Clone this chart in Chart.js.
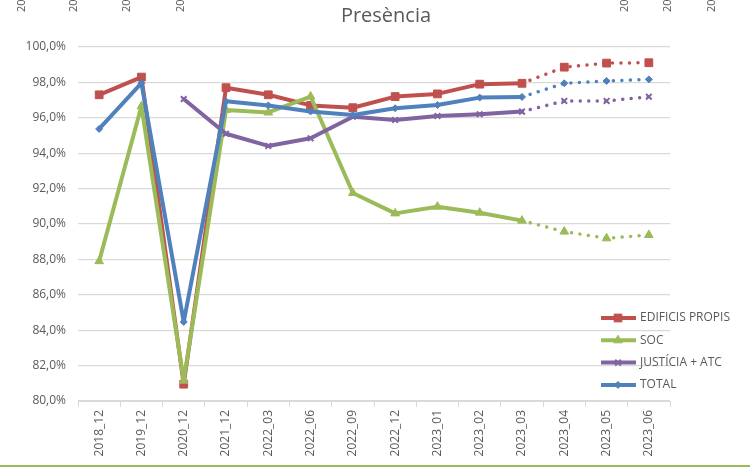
<!DOCTYPE html>
<html>
<head>
<meta charset="utf-8">
<script src="https://cdn.jsdelivr.net/npm/chart.js@4/dist/chart.umd.min.js"></script>
<style>
  body { margin: 0; background: #fff; }
  #wrap { width: 750px; height: 471px; position: relative; }
</style>
</head>
<body>
<div id="wrap"><canvas id="line-chart"></canvas></div>
<script>
// data
var categories = ['2018_12', '2019_12', '2020_12', '2021_12', '2022_03', '2022_06', '2022_09', '2022_12', '2023_01', '2023_02', '2023_03', '2023_04', '2023_05', '2023_06'];
var edificis = [97.3, 98.3, 80.95, 97.7, 97.3, 96.7, 96.57, 97.2, 97.35, 97.9, 97.95, 98.86, 99.09, 99.11];
var soc = [87.9, 96.65, 81.15, 96.44, 96.3, 97.2, 91.75, 90.6, 90.98, 90.64, 90.19, 89.57, 89.19, 89.38];
var justicia = [null, null, 97.06, 95.1, 94.41, 94.84, 96.06, 95.88, 96.1, 96.2, 96.35, 96.95, 96.95, 97.19];
var total = [95.37, 97.96, 84.47, 96.93, 96.7, 96.36, 96.16, 96.54, 96.72, 97.14, 97.18, 97.95, 98.08, 98.17];
var seriesNames = ['EDIFICIS PROPIS', 'SOC', 'JUSTÍCIA + ATC', 'TOTAL'];
var chartTitle = 'Presència';
var topStubs = ['20', '20', '20', '20', '20', '20', '20'];
var yMin = 80, yMax = 100, yStep = 2;
var firstForecast = 10; // from 2023_03 onward the line is dotted

var textColor = '#595959';
var fontFamily = "'Open Sans', 'Noto Sans', sans-serif";

function makeSet(label, data, color, style, radius, order) {
    return {
        label: label,
        data: data,
        borderColor: color,
        backgroundColor: color,
        borderWidth: 4,
        pointStyle: style,
        pointRadius: radius,
        pointBorderWidth: style === 'crossRot' ? 2 : 1,
        pointBorderColor: color,
        pointBackgroundColor: color,
        borderCapStyle: 'round',
        borderJoinStyle: 'round',
        order: order,
        segment: {
            borderDash: function (ctx) { return ctx.p0DataIndex >= firstForecast ? [0.01, 8.5] : undefined; },
            borderWidth: function (ctx) { return ctx.p0DataIndex >= firstForecast ? 3.5 : undefined; }
        }
    };
}

// title, legend, stray labels and bottom rule drawn by hand
var decorations = {
    id: 'decorations',
    afterDraw: function (chart) {
        var c = chart.ctx;
        c.save();
        c.fillStyle = textColor;
        c.font = '20px ' + fontFamily;
        c.textAlign = 'center';
        c.textBaseline = 'middle';
        c.fillText(chartTitle, 386, 16);

        // clipped labels peeking in at the top
        var xs = [22, 74, 127, 181, 625, 668, 712];
        c.font = '11px ' + fontFamily;
        c.textAlign = 'left';
        xs.forEach(function (x, i) {
            c.save();
            c.translate(x, 12);
            c.rotate(-Math.PI / 2);
            c.fillText(topStubs[i], 0, 0);
            c.restore();
        });

        // legend
        var ly = 318;
        chart.data.datasets.forEach(function (ds) {
            c.strokeStyle = ds.borderColor;
            c.lineWidth = 4;
            c.beginPath();
            c.moveTo(601, ly);
            c.lineTo(636, ly);
            c.stroke();
            c.fillStyle = ds.borderColor;
            c.strokeStyle = ds.borderColor;
            c.lineWidth = ds.pointBorderWidth;
            Chart.helpers.drawPoint(c, { pointStyle: ds.pointStyle, radius: ds.pointRadius, borderWidth: ds.pointBorderWidth, rotation: 0 }, 618, ly);
            c.fillStyle = textColor;
            c.font = '12px ' + fontFamily;
            c.textAlign = 'left';
            c.textBaseline = 'middle';
            c.fillText(ds.label, 640, ly);
            ly += 22.3;
        });

        // green rule at the bottom
        c.strokeStyle = '#9bbb59';
        c.lineWidth = 2;
        c.beginPath();
        c.moveTo(0, 466);
        c.lineTo(750, 466);
        c.stroke();
        c.restore();
    }
};

var ctx1 = document.getElementById('line-chart').getContext('2d');
var lineChart = new Chart(ctx1, {
    type: 'line',
    data: {
        labels: categories,
        datasets: [
            makeSet(seriesNames[0], edificis, '#c0504d', 'rect', 5.5, 3),
            makeSet(seriesNames[1], soc, '#9bbb59', 'triangle', 5, 2),
            makeSet(seriesNames[2], justicia, '#8064a2', 'crossRot', 4, 1),
            makeSet(seriesNames[3], total, '#4f81bd', 'rectRot', 3.5, 0)
        ]
    },
    options: {
        responsive: true,
        maintainAspectRatio: false,
        animation: false,
        layout: { padding: { top: 47, right: 80, bottom: 0, left: 0 } },
        plugins: {
            legend: { display: false },
            title: { display: false },
            tooltip: { enabled: false }
        },
        scales: {
            x: {
                offset: true,
                grid: { drawOnChartArea: false, drawTicks: true, tickLength: 6, offset: true, color: '#d9d9d9' },
                border: { display: true, color: '#d9d9d9' },
                ticks: {
                    color: textColor,
                    font: { family: fontFamily, size: 12 },
                    minRotation: 90,
                    maxRotation: 90,
                    padding: 3,
                    autoSkip: false
                },
                afterFit: function (scale) { scale.height = 70; }
            },
            y: {
                min: yMin,
                max: yMax,
                grid: { color: '#d9d9d9', drawTicks: false, lineWidth: 1.3 },
                border: { display: false },
                ticks: {
                    stepSize: yStep,
                    padding: 12,
                    color: textColor,
                    font: { family: fontFamily, size: 12 },
                    callback: function (v) { return v.toFixed(1).replace('.', ',') + '%'; }
                },
                afterFit: function (scale) { scale.width = 78; }
            }
        }
    },
    plugins: [decorations]
});
</script>
</body>
</html>
